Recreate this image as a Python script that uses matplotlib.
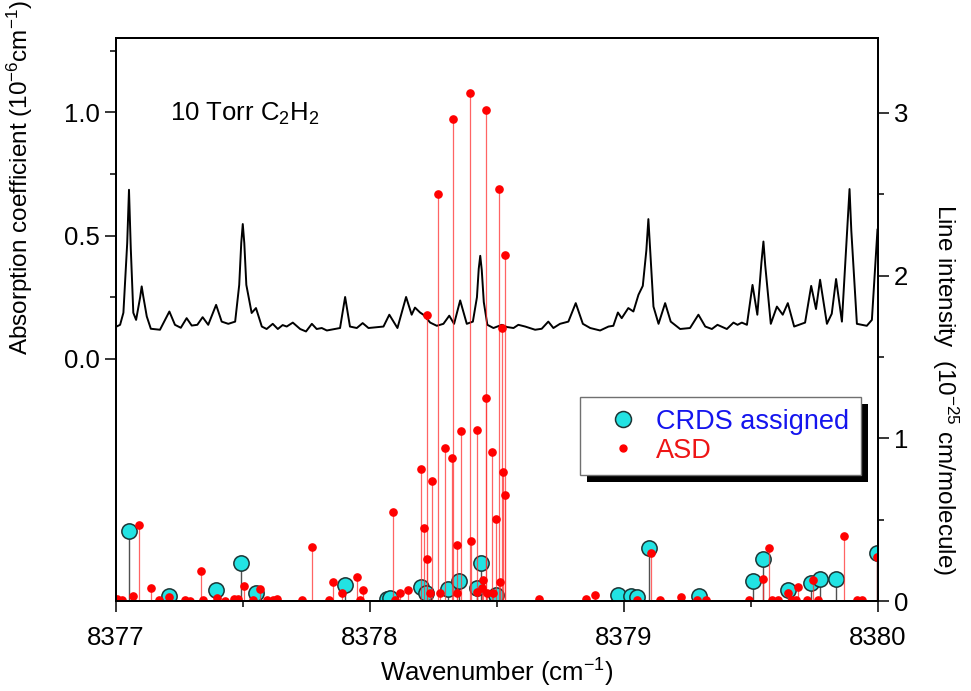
import matplotlib
matplotlib.use("Agg")
import matplotlib.pyplot as plt
from matplotlib.lines import Line2D
from matplotlib.patches import Rectangle
from matplotlib.transforms import IdentityTransform

plt.rcParams["font.family"] = ["Liberation Sans", "DejaVu Sans"]
plt.rcParams["mathtext.fontset"] = "custom"
plt.rcParams["mathtext.rm"] = "Liberation Sans"
plt.rcParams["mathtext.default"] = "regular"

# measured spectrum, 10 Torr C2H2 (left axis, 1e-6 cm-1)
spec_wn = [
    8377.000, 8377.016, 8377.029, 8377.044, 8377.051, 8377.058, 8377.068, 8377.079,
    8377.095, 8377.101, 8377.107, 8377.121,
    8377.137, 8377.173, 8377.210, 8377.232, 8377.255, 8377.278, 8377.298, 8377.320,
    8377.341, 8377.363, 8377.394, 8377.416, 8377.442, 8377.469, 8377.485, 8377.493,
    8377.499, 8377.505, 8377.513, 8377.534,
    8377.551, 8377.574, 8377.593, 8377.617, 8377.637, 8377.656, 8377.672, 8377.696,
    8377.725, 8377.748, 8377.771, 8377.790, 8377.810, 8377.830, 8377.882, 8377.902,
    8377.921, 8377.948, 8377.971, 8377.994, 8378.053, 8378.076, 8378.108, 8378.142,
    8378.164, 8378.177, 8378.197, 8378.210, 8378.237, 8378.263, 8378.289, 8378.312,
    8378.331, 8378.355, 8378.381, 8378.405, 8378.421, 8378.428, 8378.434, 8378.440,
    8378.448, 8378.462, 8378.486, 8378.519,
    8378.539, 8378.565, 8378.584, 8378.611, 8378.650, 8378.676, 8378.702, 8378.722,
    8378.748, 8378.781, 8378.810, 8378.838, 8378.867, 8378.906, 8378.939, 8378.958,
    8378.976, 8378.991, 8379.017, 8379.037, 8379.057, 8379.074, 8379.088, 8379.096,
    8379.103, 8379.116,
    8379.136, 8379.162, 8379.184, 8379.221, 8379.260, 8379.293, 8379.320, 8379.346,
    8379.368, 8379.405, 8379.431, 8379.447, 8379.464, 8379.484, 8379.506, 8379.525,
    8379.541, 8379.549, 8379.556, 8379.578, 8379.602, 8379.625, 8379.645, 8379.670,
    8379.713, 8379.737,
    8379.756, 8379.772, 8379.799, 8379.818, 8379.835, 8379.858, 8379.880, 8379.888,
    8379.895, 8379.917, 8379.956, 8379.976, 8379.998,
]
spec_abs = [
    0.130, 0.138, 0.187, 0.470, 0.686, 0.450, 0.187, 0.158,
    0.250, 0.294, 0.255, 0.172,
    0.122, 0.118, 0.192, 0.138, 0.126, 0.165, 0.135, 0.138,
    0.169, 0.138, 0.219, 0.151, 0.142, 0.151, 0.300, 0.470,
    0.547, 0.470, 0.300, 0.186,
    0.206, 0.131, 0.121, 0.142, 0.121, 0.137, 0.131, 0.147,
    0.121, 0.111, 0.142, 0.121, 0.125, 0.115, 0.125, 0.251,
    0.131, 0.125, 0.145, 0.125, 0.131, 0.179, 0.125, 0.251,
    0.179, 0.208, 0.188, 0.179, 0.147, 0.134, 0.142, 0.175,
    0.142, 0.237, 0.142, 0.151, 0.250, 0.365, 0.418, 0.360,
    0.230, 0.138, 0.125, 0.138,
    0.129, 0.125, 0.138, 0.131, 0.118, 0.122, 0.151, 0.125,
    0.142, 0.151, 0.226, 0.142, 0.125, 0.115, 0.131, 0.134,
    0.188, 0.165, 0.206, 0.192, 0.260, 0.296, 0.440, 0.567,
    0.440, 0.212,
    0.142, 0.226, 0.151, 0.121, 0.125, 0.179, 0.131, 0.121,
    0.138, 0.121, 0.147, 0.138, 0.147, 0.138, 0.300, 0.179,
    0.390, 0.476, 0.380, 0.142, 0.212, 0.179, 0.226, 0.131,
    0.147, 0.296,
    0.202, 0.321, 0.142, 0.183, 0.324, 0.151, 0.540, 0.689,
    0.520, 0.142, 0.134, 0.158, 0.524,
]

# ASD line list (right axis, 1e-25 cm/molecule)
asd_wn = [
    8377.003, 8377.022, 8377.066, 8377.092, 8377.138, 8377.171, 8377.210, 8377.272,
    8377.290, 8377.333, 8377.343, 8377.398, 8377.430, 8377.463, 8377.482, 8377.505,
    8377.540, 8377.567, 8377.593, 8377.619, 8377.632, 8377.734, 8377.773, 8377.839,
    8377.856, 8377.889, 8377.948, 8377.961, 8377.974, 8378.092, 8378.100, 8378.119,
    8378.151, 8378.200, 8378.212, 8378.224, 8378.226, 8378.237, 8378.246, 8378.269,
    8378.276, 8378.296, 8378.321, 8378.327, 8378.342, 8378.343, 8378.359, 8378.392,
    8378.398, 8378.421, 8378.423, 8378.440, 8378.445, 8378.455, 8378.457, 8378.460,
    8378.482, 8378.486, 8378.497, 8378.507, 8378.510, 8378.520, 8378.523, 8378.532,
    8378.533, 8378.667, 8378.851, 8378.884, 8379.050, 8379.106, 8379.143, 8379.225,
    8379.287, 8379.324, 8379.493, 8379.549, 8379.569, 8379.582, 8379.608, 8379.645,
    8379.660, 8379.677, 8379.687, 8379.722, 8379.746, 8379.762, 8379.865, 8379.917,
    8379.939, 8379.998,
]
asd_int = [
    0.010, 0.005, 0.030, 0.470, 0.078, 0.006, 0.026, 0.006,
    0.003, 0.186, 0.006, 0.020, 0.003, 0.015, 0.010, 0.092,
    0.004, 0.072, 0.004, 0.006, 0.010, 0.006, 0.334, 0.004,
    0.120, 0.047, 0.150, 0.006, 0.068, 0.550, 0.006, 0.047,
    0.068, 0.810, 0.450, 0.256, 1.760, 0.047, 0.737, 2.500,
    0.047, 0.940, 0.880, 2.965, 0.047, 0.344, 1.043, 3.125,
    0.369, 0.057, 1.050, 0.078, 0.130, 3.016, 1.250, 0.047,
    0.918, 0.047, 0.502, 2.532, 0.119, 1.678, 0.795, 0.652,
    2.127, 0.010, 0.010, 0.037, 0.004, 0.293, 0.006, 0.026,
    0.006, 0.004, 0.006, 0.133, 0.324, 0.006, 0.004, 0.047,
    0.006, 0.004, 0.084, 0.004, 0.129, 0.006, 0.400, 0.006,
    0.006, 0.270,
]

# CRDS assigned lines
crds_wn = [
    8377.051, 8377.210, 8377.394, 8377.492, 8377.550, 8377.902, 8378.068, 8378.079,
    8378.200, 8378.220, 8378.309, 8378.352, 8378.420, 8378.436, 8378.497, 8378.976,
    8379.027, 8379.051, 8379.097, 8379.296, 8379.506, 8379.549, 8379.645, 8379.736,
    8379.773, 8379.836, 8379.996,
]
crds_int = [
    0.432, 0.033, 0.068, 0.236, 0.050, 0.100, 0.010, 0.020,
    0.084, 0.047, 0.072, 0.125, 0.078, 0.232, 0.037, 0.037,
    0.030, 0.026, 0.324, 0.033, 0.123, 0.258, 0.068, 0.109,
    0.133, 0.137, 0.293,
]

FS = 18.5
CYAN = "#22e3e3"

fig = plt.figure(figsize=(9.71, 6.91), dpi=100)
ax = fig.add_axes([0.1195, 0.1302, 0.7847, 0.8148])
ax2 = ax.twinx()

ax.plot(spec_wn, spec_abs, color="black", lw=1.4)

ax2.vlines(crds_wn, 0, crds_int, color="#505050", lw=1.0)
ax2.plot(crds_wn, crds_int, "o", ms=11, mfc=CYAN, mec="#1c3535", mew=1.1)
ax2.vlines(asd_wn, 0, asd_int, color="#ff3030", lw=0.9, alpha=0.75)
ax2.plot(asd_wn, asd_int, "o", ms=5.2, color="#ff0000", mec="#ff0000")

ax.set_xlim(8377, 8380)
ax.set_ylim(-0.983, 1.302)
ax2.set_ylim(0, 3.46)

ax.set_xticks([8377, 8378, 8379, 8380])
ax.set_xticklabels(["8377", "8378", "8379", "8380"])
ax.set_xticks([8377.5, 8378.5, 8379.5], minor=True)
ax.set_yticks([0.0, 0.5, 1.0])
ax.set_yticklabels(["0.0", "0.5", "1.0"])
ax.set_yticks([0.25, 0.75, 1.25], minor=True)
ax2.set_yticks([0, 1, 2, 3])
ax2.set_yticks([0.5, 1.5, 2.5], minor=True)

for a in (ax, ax2):
    a.tick_params(which="major", direction="out", length=8, width=1.1, labelsize=FS)
    a.tick_params(which="minor", direction="out", length=4, width=1.1)
    for s in a.spines.values():
        s.set_linewidth(1.4)
ax.tick_params(axis="x", which="major", pad=10)

ax.set_xlabel("Wavenumber (cm$^{-1}$)", fontsize=FS, labelpad=5)
ax.set_ylabel("Absorption coefficient (10$^{-6}$cm$^{-1}$)", fontsize=17.5,
              va="center", ha="center")
ax.yaxis.set_label_coords(-0.126, 0.752)
ax2.set_ylabel("Line intensity  (10$^{-25}$ cm/molecule)", fontsize=17.5,
               rotation=270, va="center", ha="center")
ax2.yaxis.set_label_coords(1.088, 0.375)

ax.text(0.071, 0.8526, "10 Torr C$_2$H$_2$", transform=ax.transAxes,
        fontsize=18.5, va="baseline")

handles = [
    Line2D([], [], ls="none", marker="o", ms=11.5, mfc=CYAN, mec="#1c3535", mew=1.1),
    Line2D([], [], ls="none", marker="o", ms=5, color="#ff0000"),
]
leg = ax2.legend(handles, ["CRDS assigned", "ASD"], loc="upper left",
                 bbox_to_anchor=(0.609, 0.362), borderaxespad=0,
                 fontsize=19.5, labelcolor=["#1515ee", "#ee1515"],
                 fancybox=False, framealpha=1, edgecolor="#707070",
                 borderpad=0.42, handlelength=2.3, handletextpad=0.1,
                 labelspacing=0.12)
leg.get_frame().set_linewidth(1.0)
leg.set_zorder(6)

fig.canvas.draw()
bb = leg.get_window_extent()
shadow = Rectangle((bb.x0 + 7, bb.y0 - 7), bb.width, bb.height,
                   transform=IdentityTransform(), facecolor="black",
                   edgecolor="none", zorder=5.5)
ax2.add_artist(shadow)

fig.savefig("out.png", dpi=100)
